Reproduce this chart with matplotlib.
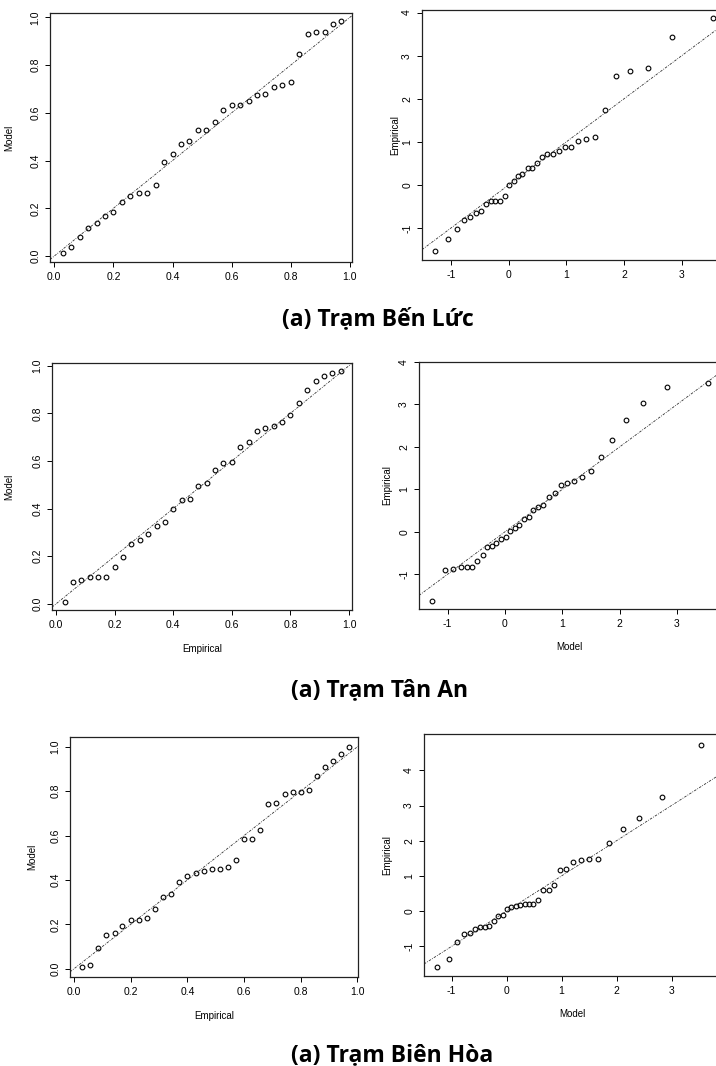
import matplotlib
matplotlib.use("Agg")
import matplotlib.pyplot as plt

W, H = 716, 1066

# probability plot: plotting positions i/(n+1), n = 34
prob_x = [0.029, 0.057, 0.086, 0.114, 0.143, 0.171, 0.200, 0.229, 0.257, 0.286,
          0.314, 0.343, 0.371, 0.400, 0.429, 0.457, 0.486, 0.514, 0.543, 0.571,
          0.600, 0.629, 0.657, 0.686, 0.714, 0.743, 0.771, 0.800, 0.829, 0.857,
          0.886, 0.914, 0.943, 0.971]

# quantile plot: model quantiles (same for all stations)
model_q = [-1.27, -1.05, -0.90, -0.77, -0.67, -0.57, -0.48, -0.39, -0.31, -0.23,
           -0.15, -0.07, 0.01, 0.09, 0.17, 0.24, 0.33, 0.41, 0.49, 0.58,
           0.67, 0.77, 0.87, 0.97, 1.09, 1.21, 1.35, 1.50, 1.67, 1.87,
           2.11, 2.41, 2.83, 3.54]

# Ben Luc
benluc_prob = [0.014, 0.036, 0.078, 0.119, 0.140, 0.166, 0.183, 0.226, 0.253, 0.263,
               0.263, 0.296, 0.395, 0.429, 0.469, 0.482, 0.527, 0.527, 0.563, 0.610,
               0.634, 0.634, 0.648, 0.673, 0.677, 0.709, 0.718, 0.730, 0.845, 0.930,
               0.937, 0.939, 0.972, 0.985]
benluc_q = [-1.52, -1.26, -1.01, -0.82, -0.74, -0.65, -0.60, -0.45, -0.38, -0.36,
            -0.36, -0.26, 0.01, 0.10, 0.22, 0.25, 0.39, 0.39, 0.50, 0.65,
            0.73, 0.72, 0.78, 0.88, 0.89, 1.02, 1.07, 1.12, 1.73, 2.54,
            2.64, 2.71, 3.43, 3.87]

# Tan An
tanan_prob = [0.007, 0.092, 0.101, 0.111, 0.113, 0.113, 0.154, 0.197, 0.249, 0.266,
              0.294, 0.325, 0.345, 0.396, 0.437, 0.441, 0.496, 0.508, 0.563, 0.591,
              0.595, 0.660, 0.678, 0.727, 0.737, 0.748, 0.763, 0.793, 0.845, 0.898,
              0.936, 0.958, 0.971, 0.976]
tanan_q = [-1.62, -0.91, -0.88, -0.84, -0.84, -0.82, -0.68, -0.54, -0.37, -0.33,
           -0.27, -0.17, -0.12, 0.01, 0.09, 0.15, 0.29, 0.35, 0.51, 0.58,
           0.62, 0.83, 0.92, 1.11, 1.15, 1.20, 1.29, 1.42, 1.75, 2.17,
           2.64, 3.03, 3.40, 3.51]

# Bien Hoa
bienhoa_prob = [0.006, 0.018, 0.093, 0.150, 0.162, 0.194, 0.219, 0.219, 0.228, 0.270,
                0.323, 0.335, 0.392, 0.420, 0.432, 0.441, 0.450, 0.450, 0.459, 0.492,
                0.583, 0.583, 0.626, 0.742, 0.746, 0.787, 0.797, 0.797, 0.805, 0.868,
                0.910, 0.934, 0.968, 0.997]
bienhoa_q = [-1.59, -1.37, -0.88, -0.66, -0.63, -0.51, -0.44, -0.45, -0.41, -0.29,
             -0.14, -0.12, 0.06, 0.13, 0.15, 0.17, 0.21, 0.21, 0.20, 0.32,
             0.59, 0.59, 0.75, 1.17, 1.21, 1.41, 1.45, 1.47, 1.49, 1.93,
             2.32, 2.64, 3.24, 4.73]

captions = ["(a) Trạm Bến Lức", "(a) Trạm Tân An", "(a) Trạm Biên Hòa"]

prob_ticks = [0.0, 0.2, 0.4, 0.6, 0.8, 1.0]
prob_ticklabels = ["0.0", "0.2", "0.4", "0.6", "0.8", "1.0"]
q_xticks = [-1, 0, 1, 2, 3]
q_yticks = [-1, 0, 1, 2, 3, 4]

plt.rcParams['font.family'] = ['Liberation Sans', 'DejaVu Sans']

fig = plt.figure(figsize=(W / 100, H / 100), dpi=100)


def px_axes(left, top, right, bottom):
    return fig.add_axes([left / W, 1 - bottom / H, (right - left) / W, (bottom - top) / H])


def style(ax, box, xlabel, ylabel, xlab_off, ylab_off):
    left, top, right, bottom = box
    for sp in ax.spines.values():
        sp.set_linewidth(0.9)
        sp.set_color('#222222')
    ax.tick_params(direction='out', length=3.6, width=0.7, labelsize=7.5, pad=3.5)
    ax.tick_params(axis='y', labelrotation=90)
    for lab in ax.get_yticklabels():
        lab.set_va('center')
    if xlabel:
        ax.set_xlabel(xlabel, fontsize=7)
        ax.xaxis.set_label_coords(0.5, -xlab_off / (bottom - top))
    ax.set_ylabel(ylabel, fontsize=7)
    ax.yaxis.set_label_coords(-ylab_off / (right - left), 0.5)


def prob_panel(box, yvals, xlim, ylim, xlabel, ylab_off):
    ax = px_axes(*box)
    ax.plot(prob_x, yvals, 'o', mfc='none', mec='black', ms=3.4, mew=0.8)
    ax.axline((0, 0), slope=1, color='#333333', lw=0.6, ls=(0, (3, 1.5, 1, 1.5)))
    ax.set_xlim(*xlim)
    ax.set_ylim(*ylim)
    ax.set_xticks(prob_ticks, prob_ticklabels)
    ax.set_yticks(prob_ticks, prob_ticklabels)
    style(ax, box, xlabel, 'Model', 34, ylab_off)
    return ax


def quant_panel(box, yvals, xlim, ylim, xlabel, ylab_off):
    ax = px_axes(*box)
    ax.plot(model_q, yvals, 'o', mfc='none', mec='black', ms=3.4, mew=0.8)
    ax.axline((0, 0), slope=1, color='#333333', lw=0.6, ls=(0, (3, 1.5, 1, 1.5)))
    ax.set_xlim(*xlim)
    ax.set_ylim(*ylim)
    ax.set_xticks(q_xticks, [str(t) for t in q_xticks])
    ax.set_yticks(q_yticks, [str(t) for t in q_yticks])
    style(ax, box, xlabel, 'Empirical', 33, ylab_off)
    return ax


# row 1 - Ben Luc
prob_panel((50, 13, 352, 262), benluc_prob, (-0.0145, 1.007), (-0.025, 1.018), None, 36)
quant_panel((422, 10, 725, 260), benluc_q, (-1.5, 3.75), (-1.74, 4.06), None, 22)

# row 2 - Tan An
prob_panel((52, 363, 352, 610), tanan_prob, (-0.014, 1.01), (-0.026, 1.011), 'Empirical', 38)
quant_panel((419, 362, 720, 609), tanan_q, (-1.5, 3.75), (-1.82, 3.67), 'Model', 27)

# row 3 - Bien Hoa
prob_panel((70, 737, 358, 977), bienhoa_prob, (-0.014, 1.002), (-0.037, 1.044), 'Empirical', 33)
quant_panel((424, 734, 721, 976), bienhoa_q, (-1.5, 3.9), (-1.84, 5.03), 'Model', 32)

# captions under each row
for cap, (cx, cy) in zip(captions, [(378, 319), (380, 690), (392, 1055)]):
    fig.text(cx / W, 1 - cy / H, cap, ha='center', va='center', fontsize=16.5,
             fontweight='bold', family=['Open Sans', 'DejaVu Sans'])

fig.savefig('out.png', dpi=100)
